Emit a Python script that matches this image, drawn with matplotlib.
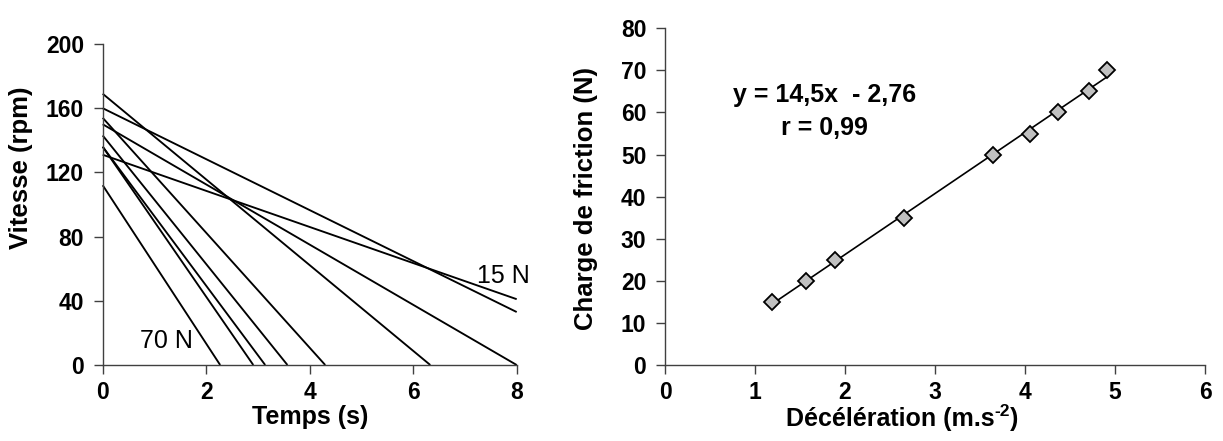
import matplotlib
matplotlib.use("Agg")
import matplotlib.pyplot as plt
import numpy as np

# ---------------- data ----------------
# Left panel: speed decay curves (one per friction load)
speed_start = [131, 160, 150, 169, 154, 143, 136, 136, 112]   # rpm at t = 0
time_end = [8, 8, 8, 6.33, 4.3, 3.57, 3.14, 2.91, 2.27]        # s
speed_end = [41, 33, 0, 0, 0, 0, 0, 0, 0]                      # rpm at time_end

time_ticks = [0, 2, 4, 6, 8]
speed_ticks = [0, 40, 80, 120, 160, 200]

# Right panel: friction load vs deceleration
deceleration = [1.19, 1.57, 1.89, 2.66, 3.64, 4.05, 4.37, 4.71, 4.91]
friction_load = [15, 20, 25, 35, 50, 55, 60, 65, 70]
fit_slope = 14.5
fit_intercept = -2.76
decel_ticks = [0, 1, 2, 3, 4, 5, 6]
load_ticks = [0, 10, 20, 30, 40, 50, 60, 70, 80]

# ---------------- style ----------------
plt.rcParams['font.family'] = ['Liberation Sans', 'DejaVu Sans']
plt.rcParams['font.weight'] = 'bold'

W, H = 1223, 441
fig = plt.figure(figsize=(W / 100, H / 100), dpi=100)

def px_axes(x0, y_top, x1, y_bot):
    return fig.add_axes([x0 / W, 1 - y_bot / H, (x1 - x0) / W, (y_bot - y_top) / H])

ax1 = px_axes(102.7, 44, 516.7, 365)
ax2 = px_axes(665, 28.3, 1205, 365)

spine_col = '#404040'
for ax in (ax1, ax2):
    for s in ('top', 'right'):
        ax.spines[s].set_visible(False)
    for s in ('left', 'bottom'):
        ax.spines[s].set_color(spine_col)
        ax.spines[s].set_linewidth(1.0)
    ax.tick_params(axis='both', direction='out', length=6.5, width=1.0,
                   color=spine_col, labelsize=16.5)
    ax.tick_params(axis='x', pad=5)
    ax.tick_params(axis='y', pad=7)

# ---- left panel ----
for v0, te, ve in zip(speed_start, time_end, speed_end):
    ax1.plot([0, te], [v0, ve], color='black', lw=1.35, solid_capstyle='butt', clip_on=False)
ax1.set_xlim(0, 8)
ax1.set_ylim(0, 200)
ax1.set_xticks(time_ticks)
ax1.set_yticks(speed_ticks)
ax1.set_xticklabels([str(t) for t in time_ticks], fontweight='bold')
ax1.set_yticklabels([str(s) for s in speed_ticks], fontweight='bold')
ax1.text(7.23, 50.9, '15 N', fontsize=18, fontweight='normal', ha='left', va='baseline')
ax1.text(0.72, 10.4, '70 N', fontsize=18, fontweight='normal', ha='left', va='baseline')

# ---- right panel ----
xfit = np.array([min(deceleration), max(deceleration)])
ax2.plot(xfit, fit_slope * xfit + fit_intercept, color='black', lw=1.2, zorder=2)
ax2.plot(deceleration, friction_load, linestyle='none', marker='D', markersize=8,
         markerfacecolor='#c0c0c0', markeredgecolor='black', markeredgewidth=1.3, zorder=3)
ax2.set_xlim(0, 6)
ax2.set_ylim(0, 80)
ax2.set_xticks(decel_ticks)
ax2.set_yticks(load_ticks)
ax2.set_xticklabels([str(t) for t in decel_ticks], fontweight='bold')
ax2.set_yticklabels([str(t) for t in load_ticks], fontweight='bold')
ax2.text(1.77, 62.6, 'y = 14,5x  - 2,76', fontsize=18, fontweight='bold', ha='center', va='baseline')
ax2.text(1.77, 54.7, 'r = 0,99', fontsize=18, fontweight='bold', ha='center', va='baseline')

# ---- axis titles (pixel positions) ----
def ftext(x, y, s, **kw):
    return fig.text(x / W, 1 - y / H, s, **kw)

ftext(21, 167.5, 'Vitesse (rpm)', rotation=90, ha='center', va='center', fontsize=18.5, fontweight='bold')
ftext(310, 417, 'Temps (s)', ha='center', va='center', fontsize=18, fontweight='bold')
ftext(586, 199, 'Charge de friction (N)', rotation=90, ha='center', va='center', fontsize=18.5, fontweight='bold')

t_main = ftext(786, 419, 'Décélération (m.s', ha='left', va='center', fontsize=18, fontweight='bold')
sup = fig.text(0, 0, '-2', fontsize=12.5, fontweight='bold')
sup.remove()
sup = plt.annotate('-2', xy=(1.0, 0.52), xycoords=t_main, ha='left', va='bottom',
                   fontsize=12.5, fontweight='bold', annotation_clip=False)
plt.annotate(')', xy=(1.0, 0.0), xycoords=(sup, t_main), ha='left', va='bottom',
             fontsize=18, fontweight='bold', annotation_clip=False)

fig.savefig('out.png', dpi=100)
